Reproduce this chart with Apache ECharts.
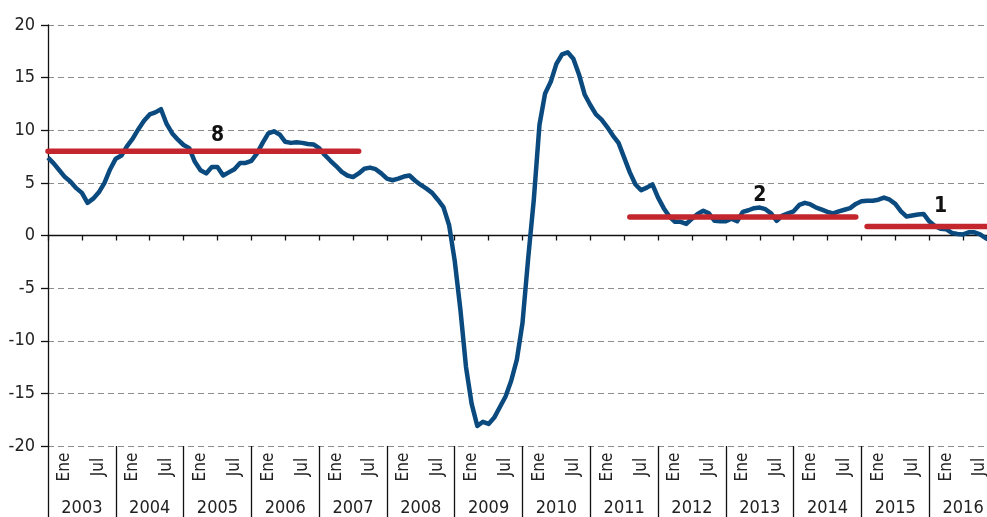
<!DOCTYPE html>
<html>
<head>
<meta charset="utf-8">
<script src="https://cdn.jsdelivr.net/npm/echarts@6/dist/echarts.min.js"></script>
<style>
html,body{margin:0;padding:0;background:#fff;overflow:hidden}
#main{width:1000px;height:517px}
</style>
</head>
<body>
<div id="main"></div>
<script>
var years = ['2003','2004','2005','2006','2007','2008','2009','2010','2011','2012','2013','2014','2015','2016']
var halfNames = ['Ene', 'Jul']

// variación anual, mensual desde ene-2003
var values = [
  7.4, 6.85, 6.2, 5.55, 5.1, 4.5, 4.05, 3.1, 3.5, 4.1, 5.0, 6.3,
  7.3, 7.6, 8.5, 9.2, 10.1, 10.9, 11.5, 11.7, 12.0, 10.6, 9.7, 9.1,
  8.6, 8.3, 7.0, 6.2, 5.9, 6.5, 6.5, 5.7, 6.0, 6.3, 6.9, 6.9,
  7.1, 7.8, 8.8, 9.7, 9.9, 9.6, 8.9, 8.8, 8.85, 8.8, 8.7, 8.65,
  8.3, 7.65, 7.1, 6.6, 6.05, 5.7, 5.55, 5.9, 6.35, 6.45, 6.3, 5.9,
  5.4, 5.25, 5.4, 5.6, 5.7, 5.2, 4.8, 4.45, 4.05, 3.4, 2.7, 1.0,
  -2.4, -7.0, -12.5, -16.0, -18.1, -17.7, -17.9, -17.3, -16.3, -15.3, -13.8, -11.8,
  -8.3, -2.2, 3.4, 10.5, 13.5, 14.6, 16.3, 17.2, 17.4, 16.8, 15.3, 13.4,
  12.4, 11.5, 11.0, 10.3, 9.5, 8.8, 7.4, 6.0, 4.85, 4.3, 4.55, 4.85,
  3.6, 2.6, 1.8, 1.3, 1.3, 1.1, 1.6, 2.05, 2.35, 2.1, 1.4, 1.35,
  1.35, 1.6, 1.35, 2.25, 2.4, 2.6, 2.65, 2.5, 2.1, 1.4, 1.9, 2.1,
  2.3, 2.9, 3.1, 2.95, 2.65, 2.45, 2.25, 2.1, 2.3, 2.45, 2.6, 3.0,
  3.25, 3.3, 3.3, 3.4, 3.6, 3.4, 3.0, 2.3, 1.8, 1.9, 2.0, 2.05,
  1.35, 0.9, 0.65, 0.6, 0.25, 0.15, 0.1, 0.3, 0.3, 0.1, -0.25, -0.5
]

// promedios por periodo
var avgValues = [8, 1.75, 0.86]
var avgStart = [0, 103, 145]
var avgEnd = [55, 143, 168]
var avgText = ['8', '2', '1']
var avgTextIdx = [30, 126, 158]

var months = []
years.forEach(function (y) {
  for (var m = 1; m <= 12; m++) months.push(y + '-' + (m < 10 ? '0' + m : m))
})
months.push('2017-01')

var halves = []
years.forEach(function (y) {
  halfNames.forEach(function (h) { halves.push(y + '-' + h) })
})

var FONT = "'DejaVu Sans Condensed', 'Liberation Sans Narrow', sans-serif"
var labelGap = [5, 11, 9]
var RED = '#c4262e'

var series = [{
  name: 'variacion',
  type: 'line',
  data: values,
  symbol: 'none',
  z: 3,
  lineStyle: { color: '#0b4a7f', width: 4.5, join: 'round' }
}]

for (let s = 0; s < avgValues.length; s++) {
  let d = []
  for (let i = 0; i < months.length; i++) {
    if (i < avgStart[s] || i > avgEnd[s]) { d.push(null); continue }
    if (i === avgTextIdx[s]) {
      d.push({
        value: avgValues[s],
        label: {
          show: true, position: 'top', distance: labelGap[s], formatter: avgText[s],
          fontFamily: FONT, fontWeight: 'bold', fontSize: 21, color: '#111'
        }
      })
    } else {
      d.push(avgValues[s])
    }
  }
  series.push({
    name: 'prom' + s,
    type: 'line',
    data: d,
    symbol: 'circle',
    symbolSize: 1,
    showSymbol: true,
    showAllSymbol: true,
    itemStyle: { color: RED },
    z: 4,
    lineStyle: { color: RED, width: 5.5, cap: 'round' }
  })
}

var chart = echarts.init(document.getElementById('main'), null, { renderer: 'canvas' })

var option = {
  animation: false,
  backgroundColor: '#fff',
  grid: { left: 48, top: 25, width: 949, height: 421 },
  xAxis: [{
    type: 'category',
    data: months,
    boundaryGap: false,
    position: 'bottom',
    axisLine: { onZero: true, lineStyle: { color: '#111', width: 1.3 } },
    axisTick: { show: true, length: 5, interval: function (i) { return i % 6 === 0 }, lineStyle: { color: '#111', width: 1.3 } },
    axisLabel: { show: false },
    splitLine: { show: false }
  }, {
    type: 'category',
    data: halves,
    boundaryGap: true,
    position: 'bottom',
    axisLine: { show: false, onZero: false },
    axisTick: { show: false },
    axisLabel: {
      interval: 0, rotate: 90, margin: 21, align: 'center', verticalAlign: 'middle',
      fontFamily: FONT, fontSize: 17, color: '#222',
      formatter: function (v) { return v.split('-')[1] }
    },
    splitLine: { show: false }
  }, {
    type: 'category',
    data: years,
    boundaryGap: true,
    position: 'bottom',
    axisLine: { show: false, onZero: false },
    axisTick: { show: true, length: 80, interval: 0, lineStyle: { color: '#111', width: 1.3 } },
    axisLabel: {
      interval: 0, margin: 53, fontFamily: FONT, fontSize: 18, color: '#222'
    },
    splitLine: { show: false }
  }],
  yAxis: {
    type: 'value',
    min: -20,
    max: 20,
    interval: 5,
    axisLine: { show: true, lineStyle: { color: '#111', width: 1.3 } },
    axisTick: { show: true, length: 7, lineStyle: { color: '#111', width: 1.3 } },
    axisLabel: { margin: 13, fontFamily: FONT, fontSize: 18, color: '#222' },
    splitLine: { show: true, lineStyle: { color: '#8c8c8c', width: 1, type: [6, 4] } }
  },
  series: series
}

chart.setOption(option)
</script>
</body>
</html>
